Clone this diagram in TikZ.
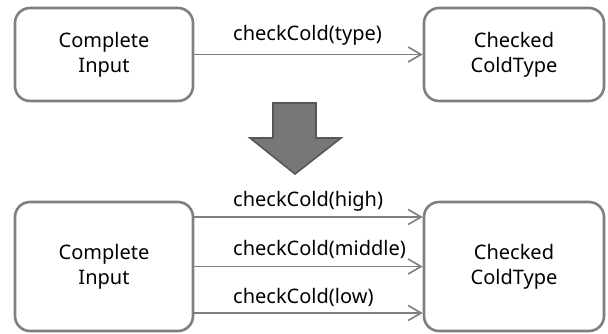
\documentclass[tikz,border=0pt]{standalone}
\usepackage{fontspec}
\setmainfont{Noto Sans}
\usetikzlibrary{arrows.meta}
\definecolor{edgegray}{HTML}{7F7F7F}
\definecolor{arrowfill}{HTML}{777777}
\definecolor{arrowedge}{HTML}{575757}
\begin{document}
\begin{tikzpicture}[x=1pt,y=-1pt,
  state/.style={draw=edgegray, line width=2.6pt, rounded corners=15pt,
    align=center, font=\fontsize{20}{25}\selectfont, inner sep=0pt},
  flow/.style={draw=edgegray, line width=1.8pt,
    -{Straight Barb[length=13pt,width=15pt,line width=1.6pt]}},
  lbl/.style={font=\fontsize{20}{25}\selectfont, inner sep=0pt, anchor=base west}
]
\useasboundingbox (0,0) rectangle (608,333);
% first stage
\node[state, minimum width=178pt, minimum height=93pt] (in1) at (104,54.5) {Complete\\Input};
\node[state, minimum width=180pt, minimum height=93pt] (out1) at (514,54.5) {Checked\\ColdType};
\draw[flow] (in1.east) -- (out1.west);
\node[lbl] (t1) at (233,40) {checkCold(type)};
% refinement arrow
\draw[fill=arrowfill, draw=arrowedge, line width=1.6pt, line join=miter]
  (273,103) -- (316,103) -- (316,138) -- (341,138) -- (295,174)
  -- (250,138) -- (273,138) -- cycle;
% second stage
\node[state, minimum width=178pt, minimum height=129pt] (in2) at (104,266.5) {Complete\\Input};
\node[state, minimum width=180pt, minimum height=129pt] (out2) at (514,266.5) {Checked\\ColdType};
\coordinate (a1) at (in2.east |- 0,217);
\coordinate (b1) at (out2.west |- 0,217);
\coordinate (a3) at (in2.east |- 0,313);
\coordinate (b3) at (out2.west |- 0,313);
\draw[flow] (a1) -- (b1);
\draw[flow] (in2.east) -- (out2.west);
\draw[flow] (a3) -- (b3);
\node[lbl] (t2) at (233,206) {checkCold(high)};
\node[lbl] (t3) at (233,255) {checkCold(middle)};
\node[lbl] (t4) at (233,303) {checkCold(low)};
\end{tikzpicture}
\end{document}
